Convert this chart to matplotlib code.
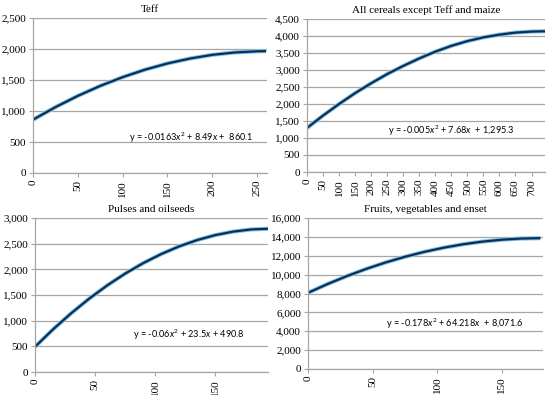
import matplotlib.pyplot as plt
from matplotlib.ticker import FuncFormatter

# values
teff_x = [0, 25, 50, 75, 100, 125, 150, 175, 200, 225, 250, 260]
teff_y = [860, 1062, 1244, 1405, 1546, 1667, 1767, 1846, 1906, 1944, 1963, 1966]

cereal_x = [0, 50, 100, 150, 200, 250, 300, 350, 400, 450, 500, 550, 600, 650, 700, 745]
cereal_y = [1295, 1660, 2000, 2320, 2610, 2880, 3120, 3340, 3540, 3710, 3850, 3960, 4040, 4100, 4130, 4140]

pulse_x = [0, 15, 30, 45, 60, 75, 90, 105, 120, 135, 150, 165, 180, 196]
pulse_y = [491, 830, 1142, 1427, 1685, 1916, 2120, 2297, 2447, 2570, 2666, 2735, 2777, 2792]

fruit_x = [0, 15, 30, 45, 60, 75, 90, 105, 120, 135, 150, 165, 180]
fruit_y = [8072, 8995, 9839, 10602, 11284, 11887, 12410, 12853, 13215, 13497, 13700, 13822, 13864]

panels = [
    ("Teff", teff_x, teff_y, 261, 2500, 500, range(0, 251, 50),
     r"y = -0.0163$\mathit{x}^2$ + 8.49$\mathit{x}$ +  860.1", (0.41, 0.23)),
    ("All cereals except Teff and maize", cereal_x, cereal_y, 742, 4500, 500, range(0, 701, 50),
     r"y = -0.005$\mathit{x}^2$ + 7.68$\mathit{x}$  + 1,295.3", (0.34, 0.27)),
    ("Pulses and oilseeds", pulse_x, pulse_y, 194, 3000, 500, range(0, 151, 50),
     r"y = -0.06$\mathit{x}^2$ + 23.5$\mathit{x}$ + 490.8", (0.42, 0.24)),
    ("Fruits, vegetables and enset", fruit_x, fruit_y, 182, 16000, 2000, range(0, 151, 50),
     r"y = -0.178$\mathit{x}^2$ + 64.218$\mathit{x}$  + 8,071.6", (0.33, 0.30)),
]

# axes boxes in pixels: left, top, right, bottom
boxes = [(33, 18, 267, 173), (307, 19, 545, 172), (35, 218, 268, 372), (308, 218, 543, 369)]

W, H = 550, 395
fig = plt.figure(figsize=(5.5, 3.95), dpi=100)
plt.rcParams["mathtext.fontset"] = "custom"
plt.rcParams["mathtext.it"] = "Lato:italic"
plt.rcParams["mathtext.rm"] = "Lato"

serif = "Liberation Serif"
thousands = FuncFormatter(lambda v, p: f"{int(v):,}")

for (title, xs, ys, xmax, ymax, ystep, xt, eq, eqpos), (l, t, r, b) in zip(panels, boxes):
    ax = fig.add_axes([l / W, 1 - b / H, (r - l) / W, (b - t) / H])
    ax.plot(xs, ys, color="#7fc4ea", lw=3.0, solid_capstyle="butt")
    ax.plot(xs, ys, color="#0d2e52", lw=1.6, solid_capstyle="butt")
    ax.set_xlim(0, xmax)
    ax.set_ylim(0, ymax)
    ax.set_yticks(range(0, ymax + 1, ystep))
    ax.yaxis.set_major_formatter(thousands)
    ax.set_xticks(list(xt))
    ax.grid(axis="y", color="#a6a6a6", lw=0.9)
    ax.set_axisbelow(True)
    for s in ("top", "right"):
        ax.spines[s].set_visible(False)
    for s in ("left", "bottom"):
        ax.spines[s].set_color("#a6a6a6")
        ax.spines[s].set_linewidth(0.9)
    ax.tick_params(colors="#a6a6a6", length=3, width=0.8, pad=2)
    for lab in ax.get_yticklabels():
        lab.set_fontfamily(serif)
        lab.set_fontsize(8)
        lab.set_color("black")
    for lab in ax.get_xticklabels():
        lab.set_fontfamily(serif)
        lab.set_fontsize(8)
        lab.set_color("black")
        lab.set_rotation(90)
    ax.set_title(title, fontfamily=serif, fontsize=8, pad=4)
    ax.text(eqpos[0], eqpos[1], eq, transform=ax.transAxes, fontfamily="Lato",
            fontsize=6.6, va="center")

fig.savefig("out.png", dpi=100)
